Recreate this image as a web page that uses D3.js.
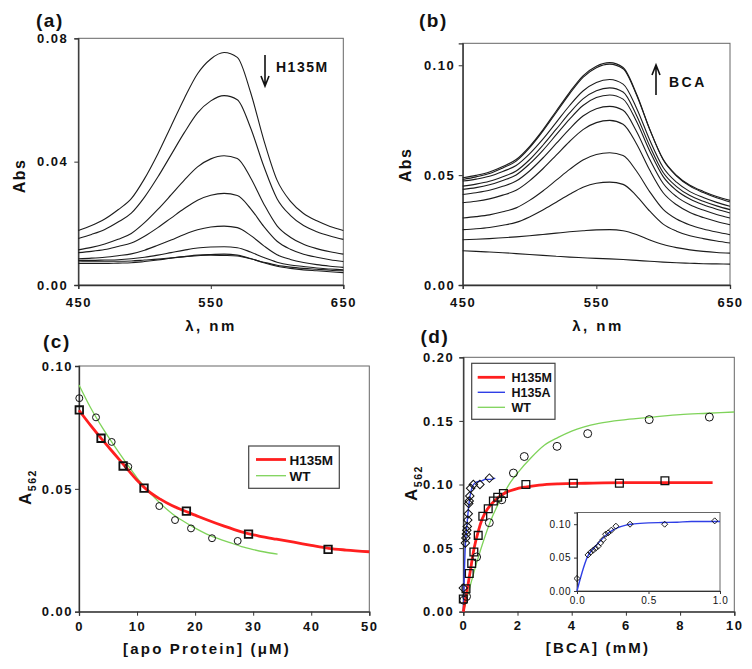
<!DOCTYPE html>
<html><head><meta charset="utf-8">
<script src="https://cdn.jsdelivr.net/npm/d3@7"></script>
<style>body{margin:0;background:#fff} svg text{font-family:"Liberation Sans",Arial,sans-serif}</style>
</head><body><svg id="c" width="752" height="669"></svg>
<script>
// ---------- DATA ----------
const wavelengths = [450,460,470,480,490,500,510,520,530,540,550,560,570,580,590,600,610,620,630,640,650];

// Panel (a): spectra on addition of H135M (decreasing)
const specA1 = [0.0177,0.0193,0.0214,0.0244,0.0280,0.0345,0.0425,0.0515,0.0605,0.0685,0.0733,0.0754,0.0738,0.0625,0.0470,0.0340,0.0272,0.0232,0.0208,0.0190,0.0177];
const specA2 = [0.0151,0.0164,0.0180,0.0204,0.0233,0.0285,0.0350,0.0422,0.0494,0.0558,0.0597,0.0614,0.0601,0.0510,0.0385,0.0280,0.0226,0.0193,0.0173,0.0159,0.0148];
const specA3 = [0.0114,0.0122,0.0133,0.0148,0.0167,0.0202,0.0245,0.0292,0.0340,0.0383,0.0409,0.0419,0.0410,0.0348,0.0263,0.0192,0.0155,0.0132,0.0118,0.0108,0.0100];
const specA4 = [0.0105,0.0109,0.0115,0.0125,0.0136,0.0158,0.0186,0.0217,0.0248,0.0275,0.0291,0.0297,0.0290,0.0248,0.0190,0.0142,0.0116,0.0100,0.0090,0.0082,0.0076];
const specA5 = [0.0085,0.0087,0.0090,0.0095,0.0101,0.0113,0.0129,0.0146,0.0164,0.0179,0.0188,0.0191,0.0186,0.0161,0.0127,0.0098,0.0083,0.0073,0.0066,0.0061,0.0057];
const specA6 = [0.0080,0.0080,0.0081,0.0082,0.0085,0.0090,0.0097,0.0105,0.0113,0.0120,0.0123,0.0124,0.0121,0.0107,0.0089,0.0074,0.0065,0.0060,0.0055,0.0052,0.0049];
const specA7 = [0.0070,0.0070,0.0070,0.0071,0.0072,0.0076,0.0081,0.0087,0.0092,0.0097,0.0099,0.0100,0.0097,0.0086,0.0072,0.0061,0.0054,0.0049,0.0046,0.0043,0.0040];
const specA8 = [0.0078,0.0077,0.0077,0.0077,0.0078,0.0081,0.0084,0.0088,0.0092,0.0095,0.0097,0.0096,0.0094,0.0085,0.0074,0.0064,0.0058,0.0054,0.0051,0.0048,0.0046];

// Panel (b): spectra on addition of BCA (increasing)
const specB1 = [0.0488,0.0499,0.0514,0.0539,0.0571,0.0630,0.0706,0.0792,0.0877,0.0952,0.0996,0.1012,0.0990,0.0870,0.0708,0.0570,0.0496,0.0450,0.0421,0.0397,0.0378];
const specB2 = [0.0480,0.0492,0.0507,0.0533,0.0564,0.0624,0.0700,0.0785,0.0870,0.0945,0.0989,0.1005,0.0984,0.0866,0.0707,0.0572,0.0499,0.0454,0.0426,0.0403,0.0385];
const specB3 = [0.0473,0.0482,0.0495,0.0517,0.0544,0.0597,0.0664,0.0740,0.0817,0.0883,0.0922,0.0935,0.0914,0.0806,0.0659,0.0535,0.0468,0.0425,0.0398,0.0376,0.0358];
const specB4 = [0.0450,0.0459,0.0472,0.0493,0.0519,0.0570,0.0636,0.0709,0.0783,0.0847,0.0884,0.0897,0.0878,0.0773,0.0632,0.0512,0.0448,0.0407,0.0381,0.0360,0.0343];
const specB5 = [0.0435,0.0443,0.0456,0.0476,0.0501,0.0551,0.0613,0.0684,0.0755,0.0817,0.0853,0.0865,0.0846,0.0745,0.0609,0.0493,0.0430,0.0391,0.0365,0.0345,0.0328];
const specB6 = [0.0412,0.0420,0.0431,0.0449,0.0473,0.0519,0.0578,0.0644,0.0711,0.0769,0.0802,0.0813,0.0795,0.0700,0.0571,0.0462,0.0402,0.0365,0.0341,0.0321,0.0305];
const specB7 = [0.0374,0.0381,0.0392,0.0409,0.0431,0.0474,0.0529,0.0591,0.0653,0.0707,0.0739,0.0749,0.0732,0.0643,0.0522,0.0420,0.0365,0.0330,0.0307,0.0289,0.0274];
const specB8 = [0.0305,0.0311,0.0319,0.0333,0.0351,0.0385,0.0428,0.0477,0.0526,0.0569,0.0594,0.0602,0.0589,0.0519,0.0424,0.0344,0.0300,0.0273,0.0255,0.0241,0.0229];
const specB9 = [0.0252,0.0256,0.0262,0.0272,0.0285,0.0310,0.0341,0.0377,0.0413,0.0445,0.0463,0.0468,0.0458,0.0406,0.0336,0.0277,0.0245,0.0224,0.0211,0.0200,0.0191];
const specB10 = [0.0206,0.0208,0.0211,0.0215,0.0219,0.0224,0.0230,0.0236,0.0242,0.0247,0.0251,0.0252,0.0247,0.0230,0.0205,0.0184,0.0170,0.0160,0.0153,0.0148,0.0145];
const specB11 = [0.0156,0.0153,0.0150,0.0147,0.0143,0.0139,0.0135,0.0131,0.0127,0.0124,0.0121,0.0119,0.0116,0.0112,0.0108,0.0104,0.0101,0.0099,0.0097,0.0096,0.0095];

// Panel (c): A562 vs [apo protein]
const cH135M_x = [0.05, 3.8, 7.6, 11.2, 18.5, 29.2, 42.9];
const cH135M_y = [0.0821, 0.0706, 0.0593, 0.0503, 0.0409, 0.0316, 0.0254];
const cWT_x = [0.05, 2.93, 5.63, 8.49, 13.83, 16.54, 19.29, 22.91, 27.33];
const cWT_y = [0.0869, 0.0791, 0.0691, 0.0590, 0.0430, 0.0373, 0.0339, 0.0299, 0.0288];
const cFitH135M_x = [0,2,4,6,8,10,12,14,16,18,20,22,25,28,31,34,37,40,43,46,50];
const cFitH135M_y = [0.0820,0.0758,0.0700,0.0645,0.0590,0.0535,0.0490,0.0458,0.0432,0.0412,0.0393,0.0374,0.0348,0.0325,0.0308,0.0295,0.0283,0.0270,0.0258,0.0251,0.0244];
const cFitWT_x = [0,2,4,6,8,10,12,14,16,18,20,22,24,26,28,30,32,34.2];
const cFitWT_y = [0.0923,0.0830,0.0750,0.0678,0.0610,0.0545,0.0490,0.0441,0.0400,0.0368,0.0340,0.0316,0.0297,0.0281,0.0265,0.0253,0.0243,0.0234];

// Panel (d): A562 vs [BCA]
const dH135M_x = [0.0, 0.1, 0.22, 0.31, 0.39, 0.55, 0.72, 0.92, 1.11, 1.27, 1.48, 2.31, 4.06, 5.76, 7.44];
const dH135M_y = [0.010, 0.018, 0.030, 0.038, 0.047, 0.060, 0.075, 0.081, 0.087, 0.090, 0.093, 0.100, 0.101, 0.101, 0.103];
const dWT_x = [0.02, 0.12, 0.49, 0.96, 1.42, 1.85, 2.25, 3.46, 4.59, 6.86, 9.08];
const dWT_y = [0.009, 0.012, 0.043, 0.070, 0.088, 0.109, 0.122, 0.130, 0.140, 0.151, 0.153];
const dH135A_x = [0, 0.077, 0.095, 0.113, 0.13, 0.148, 0.165, 0.183, 0.2, 0.218, 0.24, 0.272, 0.371, 0.613, 0.963];
const dH135A_y = [0.0187, 0.054, 0.058, 0.061, 0.064, 0.067, 0.072, 0.077, 0.085, 0.087, 0.091, 0.097, 0.100, 0.100, 0.105];
const dFitM_x = [0,0.1,0.25,0.4,0.55,0.7,0.9,1.1,1.3,1.6,1.9,2.3,2.8,3.5,4.5,6,7.5,9.2];
const dFitM_y = [0,0.012,0.031,0.05,0.063,0.073,0.081,0.086,0.09,0.094,0.0962,0.098,0.0995,0.1005,0.101,0.1015,0.1015,0.1015];
const dFitA_x = [0,0.08,0.1,0.15,0.2,0.25,0.3,0.35,0.4,0.5,0.6,0.7,0.8,1.0,1.18];
const dFitA_y = [0,0.054,0.060,0.072,0.083,0.091,0.096,0.099,0.1005,0.102,0.1025,0.103,0.104,0.104,0.105];
const dFitWT_x = [0,0.25,0.5,0.75,1,1.25,1.5,1.75,2,2.5,3,3.5,4,5,6,7,8,9,10];
const dFitWT_y = [0,0.02,0.039,0.056,0.071,0.083,0.093,0.102,0.109,0.121,0.131,0.137,0.142,0.148,0.151,0.153,0.155,0.156,0.157];

// Tick values
const ticksA_x = [450,550,650], ticksA_y = [0,0.04,0.08];
const ticksB_x = [450,550,650], ticksB_y = [0,0.05,0.10];
const ticksC_x = [0,10,20,30,40,50], ticksC_y = [0,0.05,0.10];
const ticksD_x = [0,2,4,6,8,10], ticksD_y = [0,0.05,0.10,0.15,0.20];
const ticksIn_x = [0,0.5,1.0], ticksIn_y = [0,0.05,0.10];

// ---------- DRAWING ----------
const svg = d3.select('#c');
svg.append('rect').attr('width',752).attr('height',669).attr('fill','#fff');
const FONT = '"Liberation Sans",Arial,sans-serif';
const RED = '#ff1f1f', BLUE = '#2f3fe6', GREEN = '#7fd35a';

function panel(g) {
  const x = d3.scaleLinear().domain(g.xd).range([g.l, g.r]);
  const y = d3.scaleLinear().domain(g.yd).range([g.b, g.t]);
  svg.append('rect').attr('x', g.l).attr('y', g.t).attr('width', g.r - g.l).attr('height', g.b - g.t)
    .attr('fill', g.fill || 'none').attr('stroke', '#666').attr('stroke-width', 1);
  const ax = svg.append('g').attr('transform', `translate(0,${g.b})`)
    .call(d3.axisBottom(x).tickValues(g.xt).tickFormat(d3.format(g.xf)).tickSizeOuter(0).tickSize(g.ts || 4).tickPadding(g.px));
  const ay = svg.append('g').attr('transform', `translate(${g.l},0)`)
    .call(d3.axisLeft(y).tickValues(g.yt).tickFormat(d3.format(g.yf)).tickSizeOuter(0).tickSize(g.ts || 4).tickPadding(g.py));
  [ax, ay].forEach(a => {
    a.attr('font-family', FONT).attr('font-size', g.fs || 13);
    a.select('.domain').attr('stroke', '#333').attr('stroke-width', g.dw || 1.3);
    a.selectAll('.tick line').attr('stroke', '#333').attr('stroke-width', 1);
    a.selectAll('.tick text').attr('font-weight', g.fw || 'bold').attr('letter-spacing', g.ls === undefined ? 1.5 : g.ls).attr('fill', '#111');
  });
  return {x, y};
}

function spectra(sc, arrs) {
  const line = d3.line().x((d, i) => sc.x(wavelengths[i])).y(d => sc.y(d)).curve(d3.curveMonotoneX);
  svg.append('g').selectAll('path').data(arrs).join('path')
    .attr('d', line).attr('fill', 'none').attr('stroke', '#1c1c1c').attr('stroke-width', 1.1);
}

function fitLine(sc, xs, ys, color, w) {
  const line = d3.line().x(d => sc.x(d[0])).y(d => sc.y(d[1])).curve(d3.curveMonotoneX);
  svg.append('path').datum(d3.zip(xs, ys)).attr('d', line).attr('fill', 'none').attr('stroke', color).attr('stroke-width', w);
}

function markers(sc, xs, ys, type, size, rot, sw) {
  const sym = d3.symbol().type(type).size(size);
  svg.append('g').selectAll('path').data(d3.zip(xs, ys)).join('path')
    .attr('d', sym).attr('transform', d => `translate(${sc.x(d[0])},${sc.y(d[1])}) rotate(${rot})`)
    .attr('fill', 'none').attr('stroke', '#111').attr('stroke-width', sw);
}

function label(x, y, txt, size, opts = {}) {
  return svg.append('text').attr('x', x).attr('y', y).text(txt)
    .attr('font-size', size).attr('font-weight', opts.weight || 'bold')
    .attr('letter-spacing', opts.ls || 0).attr('text-anchor', opts.anchor || 'start').attr('fill', '#111');
}

function rotLabel(x, y, main, sub, size) {
  const t = svg.append('text').attr('transform', `translate(${x},${y}) rotate(-90)`)
    .attr('text-anchor', 'middle').attr('font-size', size).attr('font-weight', 'bold').attr('letter-spacing', 1.5).attr('fill', '#111');
  t.append('tspan').text(main);
  if (sub) t.append('tspan').text(sub).attr('font-size', size * 0.62).attr('dy', size * 0.3);
}

// ----- Panel (a) -----
const A = panel({l:78.3, r:343.3, t:38.3, b:285, xd:[450,650], yd:[0,0.08], xt:ticksA_x, yt:ticksA_y, xf:'d', yf:'.2f', px:9, py:6});
spectra(A, [specA1, specA2, specA3, specA4, specA5, specA6, specA7, specA8]);
label(36, 27, '(a)', 19, {ls:1.5});
rotLabel(25, 176, 'Abs', null, 16);
label(211, 331, 'λ, nm', 15, {anchor:'middle', ls:2.5});
svg.append('path').attr('d', 'M265,55 V85 M261,76 L265,86 L269,76').attr('fill', 'none').attr('stroke', '#111').attr('stroke-width', 1.6);
label(276, 72, 'H135M', 14, {ls:1.5});

// ----- Panel (b) -----
const B = panel({l:462.7, r:730, t:43.3, b:285, xd:[450,650], yd:[0,0.11], xt:ticksB_x, yt:ticksB_y, xf:'d', yf:'.2f', px:9, py:3.5});
spectra(B, [specB1, specB2, specB3, specB4, specB5, specB6, specB7, specB8, specB9, specB10, specB11]);
label(419, 27, '(b)', 19, {ls:1.5});
rotLabel(411, 165, 'Abs', null, 16);
label(598, 331, 'λ, nm', 15, {anchor:'middle', ls:2.5});
svg.append('path').attr('d', 'M656,95 V66 M652,75 L656,65 L660,75').attr('fill', 'none').attr('stroke', '#111').attr('stroke-width', 1.6);
label(669, 86.5, 'BCA', 14, {ls:2.5});

// ----- Panel (c) -----
const C = panel({l:79, r:369.3, t:366, b:611.7, xd:[0,50], yd:[0,0.10], xt:ticksC_x, yt:ticksC_y, xf:'d', yf:'.2f', px:6, py:2});
fitLine(C, cFitWT_x, cFitWT_y, GREEN, 1.3);
fitLine(C, cFitH135M_x, cFitH135M_y, RED, 2.8);
markers(C, cWT_x, cWT_y, d3.symbolCircle, 38, 0, 1);
markers(C, cH135M_x, cH135M_y, d3.symbolSquare, 56, 0, 1.8);
label(43, 347.5, '(c)', 19, {ls:1.5});
rotLabel(31, 487, 'A', '562', 17);
label(207, 654, '[apo Protein] (μM)', 15, {anchor:'middle', ls:2.2});
svg.append('rect').attr('x', 248.7).attr('y', 446).attr('width', 90.6).attr('height', 42.3).attr('fill', '#fff').attr('stroke', '#444').attr('stroke-width', 1.2);
svg.append('line').attr('x1', 256).attr('x2', 286).attr('y1', 459.5).attr('y2', 459.5).attr('stroke', RED).attr('stroke-width', 2.8);
svg.append('line').attr('x1', 256).attr('x2', 286).attr('y1', 475.7).attr('y2', 475.7).attr('stroke', GREEN).attr('stroke-width', 1.3);
label(289.5, 464.5, 'H135M', 13.5);
label(289.5, 480.5, 'WT', 13.5);

// ----- Panel (d) -----
const D = panel({l:463.3, r:734.3, t:357.3, b:611.7, xd:[0,10], yd:[0,0.20], xt:ticksD_x, yt:ticksD_y, xf:'d', yf:'.2f', px:5, py:5});
fitLine(D, dFitWT_x, dFitWT_y, GREEN, 1.3);
fitLine(D, dFitA_x, dFitA_y, BLUE, 1.4);
fitLine(D, dFitM_x, dFitM_y, RED, 2.8);
markers(D, dWT_x, dWT_y, d3.symbolCircle, 50, 0, 1);
markers(D, dH135A_x, dH135A_y, d3.symbolSquare, 36, 45, 1);
markers(D, dH135M_x, dH135M_y, d3.symbolSquare, 60, 0, 1.3);
label(420.5, 343, '(d)', 19, {ls:1.5});
rotLabel(417, 483, 'A', '562', 17);
label(598, 653, '[BCA] (mM)', 15, {anchor:'middle', ls:2.2});
svg.append('rect').attr('x', 471.7).attr('y', 363.3).attr('width', 83.3).attr('height', 56).attr('fill', '#fff').attr('stroke', '#444').attr('stroke-width', 1.2);
[[RED, 2.8, 377.3, 'H135M'], [BLUE, 1.4, 392.3, 'H135A'], [GREEN, 1.3, 407.3, 'WT']].forEach(([c, w, yy, t]) => {
  svg.append('line').attr('x1', 477.7).attr('x2', 505).attr('y1', yy).attr('y2', yy).attr('stroke', c).attr('stroke-width', w);
  label(511.5, yy + 4.5, t, 12.5);
});

// ----- Inset -----
const I = panel({l:577, r:720, t:512.5, b:591, xd:[0,1], yd:[0,0.1175], xt:ticksIn_x, yt:ticksIn_y, xf:'.1f', yf:'.2f', px:3, py:3, fs:10, fw:'normal', ls:0.5, fill:'#fff', ts:3, dw:1});
fitLine(I, dFitA_x.filter(v => v <= 1), dFitA_y.filter((v, i) => dFitA_x[i] <= 1), BLUE, 1.4);
markers(I, dH135A_x, dH135A_y, d3.symbolSquare, 18, 45, 0.9);
</script></body></html>
